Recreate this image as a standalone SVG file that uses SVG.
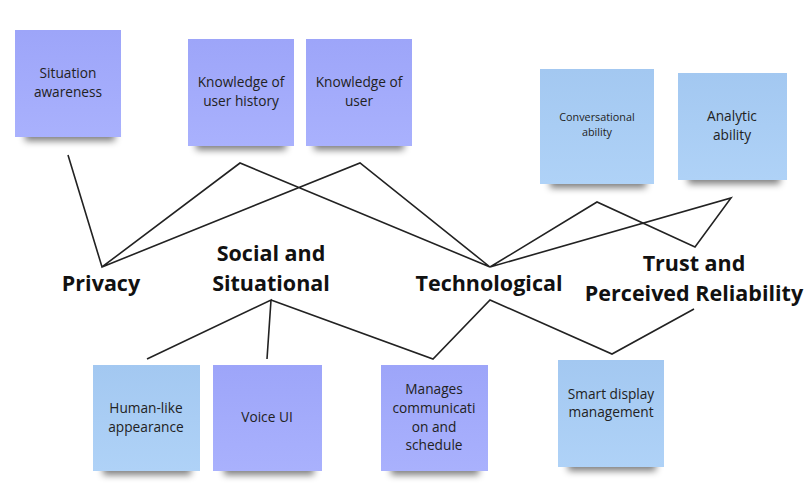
<svg xmlns="http://www.w3.org/2000/svg" width="810" height="494" viewBox="0 0 810 494">
<defs>
<linearGradient id="gP" x1="0" y1="0" x2="0" y2="1"><stop offset="0" stop-color="#9da5f9"/><stop offset="1" stop-color="#a9b1fd"/></linearGradient>
<linearGradient id="gB" x1="0" y1="0" x2="0" y2="1"><stop offset="0" stop-color="#a3c8f1"/><stop offset="1" stop-color="#afd2f7"/></linearGradient>
<filter id="sh" x="-20%" y="-60%" width="140%" height="220%"><feGaussianBlur stdDeviation="3.5"/></filter>
<style>
.shadow{fill:#000;opacity:0.5;filter:url(#sh)}
.np{fill:url(#gP)}
.nb{fill:url(#gB)}
.t{font-family:"Open Sans","Noto Sans",sans-serif;font-size:13.7px;fill:#222;text-anchor:middle}
.ts{font-size:10.8px}
.lab{font-family:"Open Sans","Noto Sans",sans-serif;font-weight:700;font-size:21.5px;fill:#111;text-anchor:middle}
.c{fill:none;stroke:#222;stroke-width:1.6;stroke-linejoin:miter}
</style>
</defs>
<rect width="810" height="494" fill="#fff"/>
<g id="connectors">
<polyline class="c" points="68,155 102,267 240,163 490,267 360,163 102,267"/>
<polyline class="c" points="490,267 597,202 695,247 731,198 490,267"/>
<polyline class="c" points="147,359 271,300 267,359"/>
<polyline class="c" points="271,300 433,359 490,300 612,354 694,309"/>
</g>
<g id="n-situation"><rect class="shadow" x="25" y="128" width="90" height="13"/><rect class="np" x="15" y="30" width="106" height="107"/><text class="t" x="68" y="78">Situation</text><text class="t" x="68" y="97">awareness</text></g>
<g id="n-history"><rect class="shadow" x="196" y="137" width="90" height="13"/><rect class="np" x="188" y="39" width="106" height="107"/><text class="t" x="241" y="87">Knowledge of</text><text class="t" x="241" y="106">user history</text></g>
<g id="n-user"><rect class="shadow" x="314" y="137" width="90" height="13"/><rect class="np" x="306" y="39" width="106" height="107"/><text class="t" x="359" y="87">Knowledge of</text><text class="t" x="359" y="106">user</text></g>
<g id="n-conv"><rect class="shadow" x="550" y="175" width="96" height="13"/><rect class="nb" x="540" y="69" width="114" height="115"/><text class="t ts" x="597" y="121">Conversational</text><text class="t ts" x="597" y="136">ability</text></g>
<g id="n-analytic"><rect class="shadow" x="688" y="171" width="92" height="13"/><rect class="nb" x="678" y="73" width="109" height="107"/><text class="t" x="732" y="121">Analytic</text><text class="t" x="732" y="140">ability</text></g>
<g id="l-privacy"><text class="lab" x="101" y="291">Privacy</text></g>
<g id="l-social"><text class="lab" x="271" y="261">Social and</text><text class="lab" x="271" y="291">Situational</text></g>
<g id="l-tech"><text class="lab" x="489" y="291">Technological</text></g>
<g id="l-trust"><text class="lab" x="694" y="271">Trust and</text><text class="lab" x="694" y="301">Perceived Reliability</text></g>
<g id="n-human"><rect class="shadow" x="103" y="462" width="88" height="13"/><rect class="nb" x="93" y="365" width="107" height="106"/><text class="t" x="146" y="413">Human-like</text><text class="t" x="146" y="432">appearance</text></g>
<g id="n-voice"><rect class="shadow" x="224" y="462" width="90" height="13"/><rect class="np" x="213" y="365" width="109" height="106"/><text class="t" x="267" y="422">Voice UI</text></g>
<g id="n-manages"><rect class="shadow" x="391" y="462" width="88" height="13"/><rect class="np" x="381" y="365" width="107" height="106"/><text class="t" x="434" y="394">Manages</text><text class="t" x="434" y="413">communicati</text><text class="t" x="434" y="432">on and</text><text class="t" x="434" y="450">schedule</text></g>
<g id="n-smart"><rect class="shadow" x="568" y="458" width="88" height="13"/><rect class="nb" x="558" y="360" width="106" height="107"/><text class="t" x="611" y="399">Smart display</text><text class="t" x="611" y="417">management</text></g>
</svg>
